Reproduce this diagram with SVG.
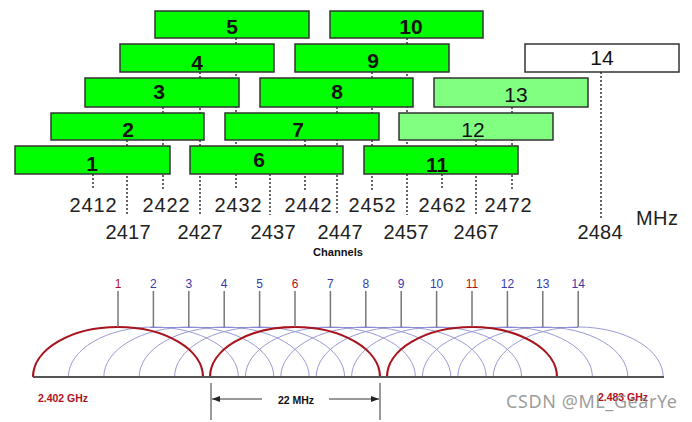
<svg xmlns="http://www.w3.org/2000/svg" width="692" height="422" viewBox="0 0 692 422">
<defs>
<style>
.bx{stroke:#333;stroke-width:1.5}
.g{fill:#00ff00}
.lg{fill:#80ff80}
.w{fill:#ffffff}
.num{font-family:"Liberation Sans",Arial,sans-serif;font-size:21px;font-weight:bold;fill:#111;text-anchor:middle}
.numr{font-family:"Liberation Sans",Arial,sans-serif;font-size:21px;fill:#111;text-anchor:middle}
.dot{stroke:#333;stroke-width:1.5;stroke-dasharray:2 2;fill:none}
.freq{font-family:"Liberation Sans",Arial,sans-serif;font-size:20px;fill:#222;text-anchor:middle}
.ch{font-family:"Liberation Sans",Arial,sans-serif;font-size:12px;text-anchor:middle}
.red{fill:#a8141e}
.blu{fill:#3a3aa8}
.tick{stroke:#777;stroke-width:1.5}
.ab{fill:none;stroke:#9a9ad4;stroke-width:1}
.ar{fill:none;stroke:#a8141e;stroke-width:2.2}
.small{font-family:"Liberation Sans",Arial,sans-serif;font-weight:bold;font-size:10.5px}
</style>
<marker id="ah" viewBox="0 0 8 6" refX="8" refY="3" markerWidth="8" markerHeight="6" orient="auto-start-reverse" markerUnits="userSpaceOnUse">
<path d="M0,0 L8,3 L0,6 z" fill="#222"/>
</marker>
</defs>
<rect width="692" height="422" fill="#ffffff"/>

<g id="connectors">
<line class="dot" x1="93" y1="174" x2="93" y2="190"/>
<line class="dot" x1="127" y1="140" x2="127" y2="215"/>
<line class="dot" x1="163" y1="107" x2="163" y2="190"/>
<line class="dot" x1="200" y1="72" x2="200" y2="215"/>
<line class="dot" x1="236" y1="38" x2="236" y2="190"/>
<line class="dot" x1="270" y1="174" x2="270" y2="215"/>
<line class="dot" x1="305" y1="140" x2="305" y2="190"/>
<line class="dot" x1="337" y1="107" x2="337" y2="215"/>
<line class="dot" x1="372" y1="72" x2="372" y2="190"/>
<line class="dot" x1="407" y1="38" x2="407" y2="215"/>
<line class="dot" x1="442" y1="174" x2="442" y2="190"/>
<line class="dot" x1="476" y1="140" x2="476" y2="215"/>
<line class="dot" x1="512" y1="107" x2="512" y2="190"/>
<line class="dot" x1="601" y1="72" x2="601" y2="220"/>
</g>

<g id="box5"><rect class="bx g" x="155" y="11" width="154" height="27"/><text class="num" x="232" y="34">5</text></g>
<g id="box10"><rect class="bx g" x="330" y="11" width="153" height="27"/><text class="num" x="411" y="34">10</text></g>
<g id="box4"><rect class="bx g" x="120" y="44" width="154" height="28"/><text class="num" x="197" y="70">4</text></g>
<g id="box9"><rect class="bx g" x="295" y="44" width="154" height="28"/><text class="num" x="373" y="68">9</text></g>
<g id="box14"><rect class="bx w" x="525" y="44" width="154" height="28"/><text class="numr" x="602" y="65">14</text></g>
<g id="box3"><rect class="bx g" x="85" y="78" width="154" height="29"/><text class="num" x="159" y="99">3</text></g>
<g id="box8"><rect class="bx g" x="260" y="78" width="153" height="29"/><text class="num" x="337" y="99">8</text></g>
<g id="box13"><rect class="bx lg" x="434" y="78" width="154" height="29"/><text class="numr" x="516" y="102">13</text></g>
<g id="box2"><rect class="bx g" x="51" y="113" width="153" height="27"/><text class="num" x="128" y="137">2</text></g>
<g id="box7"><rect class="bx g" x="225" y="113" width="154" height="27"/><text class="num" x="298" y="137">7</text></g>
<g id="box12"><rect class="bx lg" x="399" y="113" width="154" height="27"/><text class="numr" x="473" y="137">12</text></g>
<g id="box1"><rect class="bx g" x="15" y="146" width="155" height="28"/><text class="num" x="92" y="171">1</text></g>
<g id="box6"><rect class="bx g" x="190" y="146" width="153" height="28"/><text class="num" x="259" y="167">6</text></g>
<g id="box11"><rect class="bx g" x="364" y="146" width="154" height="28"/><text class="num" x="437" y="172">11</text></g>

<g id="freqs">
<text class="freq" x="93" y="212" textLength="47">2412</text>
<text class="freq" x="166" y="212" textLength="47">2422</text>
<text class="freq" x="238" y="212" textLength="47">2432</text>
<text class="freq" x="308" y="212" textLength="47">2442</text>
<text class="freq" x="372" y="212" textLength="47">2452</text>
<text class="freq" x="442" y="212" textLength="47">2462</text>
<text class="freq" x="508" y="212" textLength="47">2472</text>
<text class="freq" x="128" y="239" textLength="45">2417</text>
<text class="freq" x="200" y="239" textLength="45">2427</text>
<text class="freq" x="273" y="239" textLength="45">2437</text>
<text class="freq" x="340" y="239" textLength="45">2447</text>
<text class="freq" x="406" y="239" textLength="45">2457</text>
<text class="freq" x="476" y="239" textLength="45">2467</text>
<text class="freq" x="600" y="239" textLength="45">2484</text>
<text class="freq" x="657" y="225" textLength="42">MHz</text>
<text class="small" x="338" y="256" text-anchor="middle" textLength="50" lengthAdjust="spacingAndGlyphs" font-size="10" fill="#111">Channels</text>
</g>

<g id="spectrum">
<line x1="150" y1="327.5" x2="578" y2="327.5" stroke="#6a6ae0" stroke-width="1.2"/>
<path class="ab" d="M68.4,377 A85,50 0 0 1 238.4,377"/>
<path class="ab" d="M103.8,377 A85,50 0 0 1 273.8,377"/>
<path class="ab" d="M139.2,377 A85,50 0 0 1 309.2,377"/>
<path class="ab" d="M174.6,377 A85,50 0 0 1 344.6,377"/>
<path class="ab" d="M245.4,377 A85,50 0 0 1 415.4,377"/>
<path class="ab" d="M280.8,377 A85,50 0 0 1 450.8,377"/>
<path class="ab" d="M316.2,377 A85,50 0 0 1 486.2,377"/>
<path class="ab" d="M351.6,377 A85,50 0 0 1 521.6,377"/>
<path class="ab" d="M422.4,377 A85,50 0 0 1 592.4,377"/>
<path class="ab" d="M457.8,377 A85,50 0 0 1 627.8,377"/>
<path class="ab" d="M493.2,377 A85,50 0 0 1 663.2,377"/>
<path class="ar" d="M33,377 A85,50 0 0 1 203,377"/>
<path class="ar" d="M210,377 A85,50 0 0 1 380,377"/>
<path class="ar" d="M387,377 A85,50 0 0 1 557,377"/>
<line x1="33" y1="377" x2="664" y2="377" stroke="#555" stroke-width="2"/>
<g class="tick">
<line x1="118" y1="291" x2="118" y2="327"/>
<line x1="153.4" y1="291" x2="153.4" y2="327"/>
<line x1="188.8" y1="291" x2="188.8" y2="327"/>
<line x1="224.2" y1="291" x2="224.2" y2="327"/>
<line x1="259.6" y1="291" x2="259.6" y2="327"/>
<line x1="295" y1="291" x2="295" y2="327"/>
<line x1="330.4" y1="291" x2="330.4" y2="327"/>
<line x1="365.8" y1="291" x2="365.8" y2="327"/>
<line x1="401.2" y1="291" x2="401.2" y2="327"/>
<line x1="436.6" y1="291" x2="436.6" y2="327"/>
<line x1="472" y1="291" x2="472" y2="327"/>
<line x1="507.4" y1="291" x2="507.4" y2="327"/>
<line x1="542.8" y1="291" x2="542.8" y2="327"/>
<line x1="578.2" y1="291" x2="578.2" y2="327"/>
</g>
<text class="ch red" x="118" y="288">1</text>
<text class="ch blu" x="153.4" y="288">2</text>
<text class="ch blu" x="188.8" y="288">3</text>
<text class="ch blu" x="224.2" y="288">4</text>
<text class="ch blu" x="259.6" y="288">5</text>
<text class="ch red" x="295" y="288">6</text>
<text class="ch blu" x="330.4" y="288">7</text>
<text class="ch blu" x="365.8" y="288">8</text>
<text class="ch blu" x="401.2" y="288">9</text>
<text class="ch blu" x="436.6" y="288">10</text>
<text class="ch red" x="472" y="288">11</text>
<text class="ch blu" x="507.4" y="288">12</text>
<text class="ch blu" x="542.8" y="288">13</text>
<text class="ch blu" x="578.2" y="288">14</text>
</g>

<g id="dimension">
<line x1="211" y1="383" x2="211" y2="420" stroke="#555" stroke-width="1.2"/>
<line x1="380" y1="383" x2="380" y2="420" stroke="#555" stroke-width="1.2"/>
<line x1="262" y1="399" x2="212" y2="399" stroke="#333" stroke-width="1" marker-end="url(#ah)"/>
<line x1="329" y1="399" x2="379" y2="399" stroke="#333" stroke-width="1" marker-end="url(#ah)"/>
<text class="small" x="296" y="404" text-anchor="middle" font-size="11" fill="#111">22 MHz</text>
<text class="small" x="38" y="402" fill="#b01020" textLength="50" lengthAdjust="spacingAndGlyphs">2.402 GHz</text>
<text class="small" x="598" y="401" fill="#b01020" textLength="50" lengthAdjust="spacingAndGlyphs">2.483 GHz</text>
</g>

<text x="506" y="408" font-family="'Noto Sans','Liberation Sans',sans-serif" font-size="18" fill="#8a8a8a" fill-opacity="0.85" textLength="171">CSDN @ML_GearYe</text>
</svg>
